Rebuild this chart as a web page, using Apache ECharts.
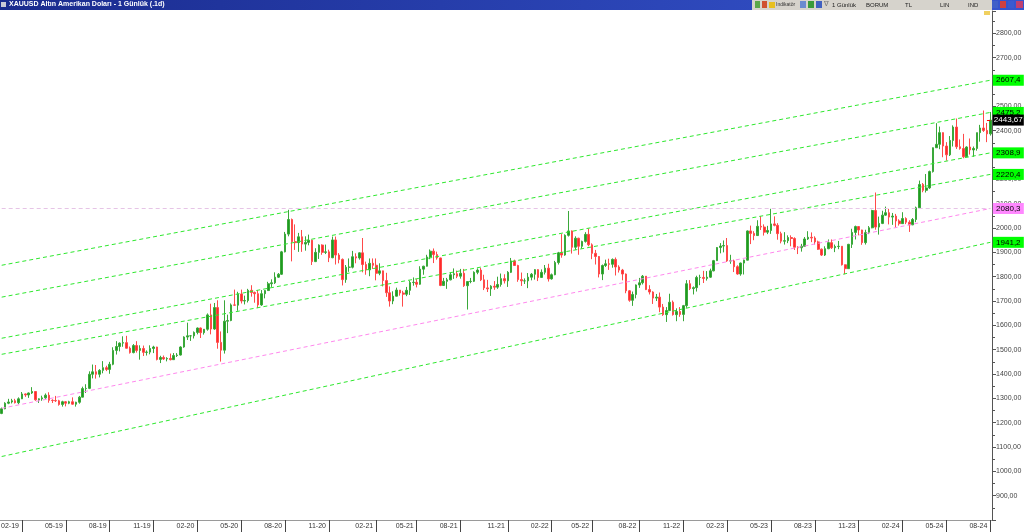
<!DOCTYPE html>
<html><head><meta charset="utf-8">
<script src="https://cdn.jsdelivr.net/npm/echarts@6/dist/echarts.min.js"></script>
<style>html,body{margin:0;padding:0;background:#fff}#c{width:1024px;height:532px}</style>
</head><body><div id="c"></div>
<script>
// Weekly OHLC [open, close, low, high], weeks starting Mon 2018-12-17
const startWeek = '2018-12-17';
const ohlc = [
[1238,1257,1235,1262],[1257,1280,1255,1284],[1280,1285,1276,1298],[1285,1290,1279,1298],[1290,1282,1279,1298],
[1282,1298,1276,1304],[1298,1318,1297,1326],[1318,1314,1306,1320],[1314,1322,1302,1324],[1322,1328,1318,1346],
[1328,1294,1290,1330],[1294,1298,1281,1300],[1298,1302,1290,1311],[1302,1313,1298,1320],[1313,1292,1282,1325],
[1292,1291,1281,1296],[1291,1290,1285,1310],[1290,1275,1270,1294],[1275,1286,1266,1290],[1286,1280,1267,1289],
[1280,1286,1276,1290],[1286,1276,1274,1304],[1276,1284,1266,1286],[1284,1305,1278,1310],[1305,1340,1304,1348],
[1340,1341,1322,1358],[1341,1399,1338,1411],[1399,1409,1382,1439],[1409,1399,1381,1437],[1399,1415,1386,1420],
[1415,1426,1403,1453],[1426,1419,1412,1434],[1419,1440,1401,1450],[1440,1497,1436,1510],[1497,1513,1480,1535],
[1513,1527,1493,1530],[1527,1529,1512,1555],[1529,1506,1505,1557],[1506,1488,1484,1513],[1488,1517,1485,1523],
[1517,1497,1488,1535],[1497,1505,1459,1518],[1505,1489,1474,1517],[1489,1490,1476,1497],[1490,1505,1481,1518],
[1505,1511,1486,1516],[1511,1460,1456,1512],[1460,1468,1445,1475],[1468,1462,1458,1476],[1462,1464,1452,1469],
[1464,1459,1456,1484],[1459,1476,1459,1486],[1476,1478,1470,1486],[1478,1511,1476,1514],[1511,1552,1508,1555],
[1552,1557,1540,1611],[1557,1557,1536,1560],[1557,1571,1546,1575],[1571,1589,1563,1591],[1589,1570,1548,1591],
[1570,1584,1562,1585],[1584,1643,1578,1649],[1643,1585,1563,1689],[1585,1673,1582,1692],[1673,1530,1504,1703],
[1530,1498,1451,1575],[1498,1617,1484,1703],[1617,1620,1568,1644],[1620,1684,1617,1690],[1684,1683,1680,1747],
[1683,1729,1660,1738],[1729,1700,1690,1747],[1700,1702,1686,1722],[1702,1744,1694,1750],[1744,1735,1718,1765],
[1735,1730,1693,1739],[1730,1684,1671,1745],[1684,1730,1680,1745],[1730,1743,1711,1745],[1743,1771,1742,1779],
[1771,1775,1758,1789],[1775,1798,1770,1818],[1798,1810,1795,1815],[1810,1902,1807,1906],[1902,1975,1900,1984],
[1975,2035,1966,2075],[2035,1944,1863,2039],[1944,1940,1910,2015],[1940,1964,1902,1980],[1964,1934,1902,1992],
[1934,1941,1907,1966],[1941,1950,1929,1973],[1950,1862,1848,1952],[1862,1900,1860,1917],[1900,1930,1873,1933],
[1930,1900,1890,1933],[1900,1902,1893,1932],[1902,1878,1860,1911],[1878,1951,1876,1965],[1951,1889,1850,1965],
[1889,1871,1855,1897],[1871,1788,1764,1875],[1788,1839,1775,1848],[1839,1839,1820,1875],[1839,1882,1834,1906],
[1882,1877,1855,1896],[1877,1898,1870,1900],[1898,1850,1818,1959],[1850,1828,1808,1862],[1828,1855,1802,1875],
[1855,1847,1832,1875],[1847,1814,1785,1875],[1814,1824,1806,1855],[1824,1784,1760,1822],[1784,1734,1717,1816],
[1734,1700,1677,1760],[1700,1720,1687,1740],[1720,1745,1719,1755],[1745,1733,1722,1745],[1733,1728,1677,1742],
[1728,1744,1720,1758],[1744,1776,1725,1784],[1776,1777,1763,1797],[1777,1769,1756,1790],[1769,1831,1767,1843],
[1831,1843,1808,1845],[1843,1881,1842,1890],[1881,1905,1872,1912],[1905,1891,1856,1916],[1891,1877,1870,1903],
[1877,1764,1761,1878],[1764,1781,1771,1795],[1781,1787,1750,1795],[1787,1808,1785,1818],[1808,1812,1791,1834],
[1812,1802,1794,1825],[1802,1814,1792,1832],[1814,1763,1758,1832],[1763,1780,1665,1782],[1780,1781,1773,1795],
[1781,1818,1778,1822],[1818,1827,1810,1834],[1827,1787,1782,1836],[1787,1754,1745,1808],[1754,1750,1737,1787],
[1750,1761,1721,1765],[1761,1757,1746,1782],[1757,1768,1750,1800],[1768,1792,1759,1813],[1792,1783,1772,1810],
[1783,1818,1758,1823],[1818,1865,1815,1877],[1865,1846,1845,1870],[1846,1788,1779,1849],[1788,1783,1762,1817],
[1783,1783,1770,1793],[1783,1798,1753,1815],[1798,1810,1785,1815],[1810,1829,1788,1831],[1829,1797,1782,1831],
[1797,1818,1795,1830],[1818,1835,1809,1848],[1835,1791,1780,1853],[1791,1808,1788,1813],[1808,1858,1806,1865],
[1858,1898,1850,1902],[1898,1889,1878,1975],[1889,1970,1886,1974],[1970,1988,1965,2070],[1988,1921,1895,1990],
[1921,1958,1910,1966],[1958,1925,1890,1960],[1925,1945,1915,1948],[1945,1974,1940,1983],[1974,1931,1925,1998],
[1931,1896,1872,1937],[1896,1883,1850,1910],[1883,1811,1797,1885],[1811,1846,1786,1850],[1846,1853,1840,1870],
[1853,1851,1828,1874],[1851,1871,1837,1875],[1871,1840,1805,1879],[1840,1827,1817,1847],[1827,1811,1785,1832],
[1811,1742,1732,1813],[1742,1703,1697,1745],[1703,1727,1680,1739],[1727,1766,1711,1768],[1766,1775,1754,1795],
[1775,1802,1768,1807],[1802,1747,1745,1800],[1747,1737,1727,1765],[1737,1712,1688,1740],[1712,1716,1700,1729],
[1716,1675,1654,1735],[1675,1644,1639,1688],[1644,1661,1614,1675],[1661,1695,1659,1730],[1695,1644,1640,1702],
[1644,1657,1617,1670],[1657,1645,1635,1675],[1645,1681,1617,1684],[1681,1771,1672,1786],[1771,1751,1745,1786],
[1751,1755,1727,1760],[1755,1797,1739,1804],[1797,1797,1765,1808],[1797,1793,1774,1824],[1793,1798,1784,1823],
[1798,1824,1795,1833],[1824,1866,1822,1869],[1866,1920,1866,1922],[1920,1926,1896,1938],[1926,1928,1900,1949],
[1928,1865,1861,1959],[1865,1865,1853,1890],[1865,1841,1819,1870],[1841,1811,1808,1847],[1811,1856,1804,1858],
[1856,1868,1809,1870],[1868,1988,1867,1990],[1988,1978,1934,2010],[1978,1969,1950,1987],[1969,2007,1985,2032],
[2007,2004,1992,2049],[2004,1983,1969,2015],[1983,1990,1975,2009],[1990,2017,1976,2079],[2017,2011,2007,2048],
[2011,1977,1952,2020],[1977,1946,1937,1985],[1946,1948,1932,1983],[1948,1961,1938,1970],[1961,1957,1925,1970],
[1957,1921,1910,1962],[1921,1919,1893,1925],[1919,1925,1903,1935],[1925,1955,1922,1963],[1955,1962,1951,1987],
[1962,1959,1942,1982],[1959,1943,1932,1966],[1943,1913,1910,1948],[1913,1889,1885,1916],[1889,1915,1885,1925],
[1915,1940,1913,1953],[1940,1919,1914,1953],[1919,1924,1901,1932],[1924,1925,1913,1947],[1925,1849,1846,1926],
[1849,1833,1810,1850],[1833,1933,1832,1935],[1933,1982,1918,1997],[1982,2006,1953,2010],[2006,1992,1970,2008],
[1992,1940,1931,1993],[1940,1981,1932,1993],[1981,2001,1975,2008],[2001,2072,1999,2075],[2072,2004,1993,2146],
[2004,2019,1973,2047],[2019,2053,2016,2071],[2053,2063,2050,2088],[2063,2045,2015,2079],[2045,2049,2013,2062],
[2049,2029,2002,2058],[2029,2018,2010,2036],[2018,2039,2017,2065],[2039,2024,2016,2044],[2024,2013,1984,2032],
[2013,2035,2012,2041],[2035,2083,2024,2088],[2083,2179,2080,2195],[2179,2155,2147,2185],[2155,2165,2146,2222],
[2165,2232,2161,2236],[2232,2330,2228,2331],[2330,2344,2329,2431],[2344,2392,2324,2417],[2392,2337,2291,2393],
[2337,2301,2277,2353],[2301,2360,2296,2378],[2360,2415,2335,2422],[2415,2334,2325,2450],[2334,2327,2322,2364],
[2327,2293,2287,2387],[2293,2333,2297,2336],[2333,2321,2302,2368],[2321,2327,2293,2335],[2327,2392,2318,2392],
[2392,2411,2355,2424],[2411,2401,2395,2483],[2401,2387,2353,2432],[2387,2443.67,2380,2477]
];
const xTickLabels = ['02-19','05-19','08-19','11-19','02-20','05-20','08-20','11-20','02-21','05-21','08-21','11-21',
  '02-22','05-22','08-22','11-22','02-23','05-23','08-23','11-23','02-24','05-24','08-24'];
const yTicks = {min: 800, max: 2892, step: 100};
const greenLineStart = [1847, 1716, 1547, 1481, 1061];
const greenLineEnd = [2607.4, 2475.2, 2308.9, 2220.4, 1941.2];
const pinkLine = [1259, 2080.3];
const levelLine = 2080.3;
const lastPrice = 2443.67;

// categories: weekly dates
const weeks = [];
(function(){
  const p = startWeek.split('-').map(Number);
  const t0 = Date.UTC(p[0], p[1]-1, p[2]);
  for (let i = 0; i < ohlc.length; i++) weeks.push(new Date(t0 + i*7*86400000));
})();
const cats = weeks.map(d => d.toISOString().slice(0,10));
const tickAt = {};
weeks.forEach((d, i) => {
  for (let k = 0; k < 7; k++) {
    const dd = new Date(d.getTime() + k*86400000);
    if (dd.getUTCDate() === 1) {
      const lab = String(dd.getUTCMonth()+1).padStart(2,'0') + '-' + String(dd.getUTCFullYear()).slice(2);
      if (xTickLabels.indexOf(lab) >= 0) tickAt[i] = lab;
    }
  }
});
const last = ohlc.length - 1;
const fmt1 = v => v.toFixed(1).replace('.', ',');

const chart = echarts.init(document.getElementById('c'), null, {renderer: 'canvas'});
const green = '#2ee82e';
const markLines = [];
greenLineStart.forEach((s, i) => {
  markLines.push([{coord: [0, s], lineStyle: {color: green}}, {coord: [last, greenLineEnd[i]]}]);
});
markLines.push([{coord: [0, pinkLine[0]], lineStyle: {color: '#ff88ee'}}, {coord: [last, pinkLine[1]]}]);
markLines.push([{coord: [0, levelLine], lineStyle: {color: '#e6c4e6'}}, {coord: [last, levelLine]}]);
markLines.push([{coord: [last - 1, lastPrice], lineStyle: {color: '#ff0000', type: 'solid'}}, {coord: [last, lastPrice]}]);

const boxes = greenLineEnd.map(v => ({coord: [last, v], value: v, itemStyle: {color: '#00ff00'}, label: {formatter: fmt1(v)}}));
boxes.push({coord: [last, pinkLine[1]], value: pinkLine[1], itemStyle: {color: '#ff88ff'}, label: {formatter: fmt1(pinkLine[1])}});
boxes.push({coord: [last, lastPrice], value: lastPrice, itemStyle: {color: '#000'}, label: {color: '#fff', formatter: lastPrice.toFixed(2).replace('.', ',')}});

const option = {
  animation: false,
  backgroundColor: '#ffffff',
  grid: {left: 0, right: 32, top: 11, bottom: 12, containLabel: false, outerBoundsMode: 'none'},
  xAxis: {
    type: 'category', data: cats, boundaryGap: true,
    axisLine: {show: true, lineStyle: {color: '#9a9a9a', width: 1}},
    axisTick: {show: true, alignWithLabel: true, length: 12, lineStyle: {color: '#444'},
      interval: (i) => tickAt[i] !== undefined},
    axisLabel: {show: true, interval: (i) => tickAt[i] !== undefined,
      formatter: (v, i) => tickAt[i] || '', align: 'right', padding: [0, 3, 0, 0], margin: 3,
      color: '#333', fontSize: 7, fontFamily: 'Liberation Sans'},
    splitLine: {show: false}
  },
  yAxis: {
    type: 'value', position: 'right', min: yTicks.min, max: yTicks.max, interval: yTicks.step, scale: true,
    axisLine: {show: true, lineStyle: {color: '#555'}},
    axisTick: {show: true, length: 4, lineStyle: {color: '#555'}},
    minorTick: {show: true, splitNumber: 2, length: 3, lineStyle: {color: '#555'}},
    axisLabel: {show: true, margin: 4, color: '#444', fontSize: 7, fontFamily: 'Liberation Sans',
      showMinLabel: false, showMaxLabel: false,
      formatter: v => (v % 100 === 0 ? v.toFixed(2).replace('.', ',') : '')},
    splitLine: {show: false}
  },
  series: [{
    type: 'candlestick', data: ohlc, barWidth: '62%', clip: false,
    itemStyle: {color: '#1f9a1f', color0: '#ff2a2a', borderColor: '#3aa83a', borderColor0: '#ff4a4a', borderWidth: 1},
    markLine: {silent: true, symbol: ['none', 'none'], label: {show: false}, animation: false,
      lineStyle: {type: [4, 3], width: 1}, data: markLines},
    markPoint: {silent: true, symbol: 'rect', symbolSize: [31, 11], symbolOffset: [18, 0], animation: false,
      label: {show: true, position: 'inside', color: '#000', fontSize: 8, fontFamily: 'Liberation Sans'},
      data: boxes}
  }],
  graphic: [
    {type: 'rect', left: 0, top: 0, shape: {width: 1024, height: 10}, z: 100,
      style: {fill: new echarts.graphic.LinearGradient(0, 0, 1, 0, [{offset: 0, color: '#1a2b8e'}, {offset: 1, color: '#3655cf'}])}},
    {type: 'rect', left: 1, top: 2, shape: {width: 5, height: 5}, z: 101, style: {fill: '#c9c9d6'}},
    {type: 'text', left: 9, top: 1, z: 101, style: {text: 'XAUUSD Altın Amerikan Doları - 1 Günlük (.1d)', fill: '#fff', font: 'bold 7px "Liberation Sans"'}},
    {type: 'rect', left: 752, top: 0, shape: {width: 240, height: 10}, z: 101, style: {fill: '#d6d3cc'}},
    {type: 'rect', left: 755, top: 1, shape: {width: 5, height: 7}, z: 102, style: {fill: '#5aa84a'}},
    {type: 'rect', left: 762, top: 1, shape: {width: 5, height: 7}, z: 102, style: {fill: '#d05030'}},
    {type: 'rect', left: 769, top: 2, shape: {width: 6, height: 6}, z: 102, style: {fill: '#e8c020'}},
    {type: 'text', left: 776, top: 2, z: 102, style: {text: 'Indikatör', fill: '#333', font: '5px "Liberation Sans"'}},
    {type: 'rect', left: 800, top: 1, shape: {width: 6, height: 7}, z: 102, style: {fill: '#6a8ad0'}},
    {type: 'rect', left: 808, top: 1, shape: {width: 6, height: 7}, z: 102, style: {fill: '#3a9a3a'}},
    {type: 'rect', left: 816, top: 1, shape: {width: 6, height: 7}, z: 102, style: {fill: '#4060c0'}},
    {type: 'text', left: 824, top: 1, z: 102, style: {text: '∇', fill: '#777', font: '7px "DejaVu Sans"'}},
    {type: 'text', left: 832, top: 2, z: 102, style: {text: '1 Günlük', fill: '#222', font: '6px "Liberation Sans"'}},
    {type: 'text', left: 866, top: 2, z: 102, style: {text: 'BORUM', fill: '#222', font: '6px "Liberation Sans"'}},
    {type: 'text', left: 905, top: 2, z: 102, style: {text: 'TL', fill: '#222', font: '6px "Liberation Sans"'}},
    {type: 'text', left: 940, top: 2, z: 102, style: {text: 'LIN', fill: '#222', font: '6px "Liberation Sans"'}},
    {type: 'text', left: 968, top: 2, z: 102, style: {text: 'IND', fill: '#222', font: '6px "Liberation Sans"'}},
    {type: 'rect', left: 992, top: 1, shape: {width: 6, height: 7}, z: 102, style: {fill: '#4060c8'}},
    {type: 'rect', left: 1000, top: 1, shape: {width: 6, height: 7}, z: 102, style: {fill: '#d04040'}},
    {type: 'rect', left: 1008, top: 1, shape: {width: 6, height: 7}, z: 102, style: {fill: '#3a5ad0'}},
    {type: 'rect', left: 1016, top: 1, shape: {width: 7, height: 7}, z: 102, style: {fill: '#c04070'}},
    {type: 'rect', left: 984, top: 11, shape: {width: 6, height: 4}, z: 102, style: {fill: '#f0d060'}}
  ]
};
chart.setOption(option);
</script></body></html>
